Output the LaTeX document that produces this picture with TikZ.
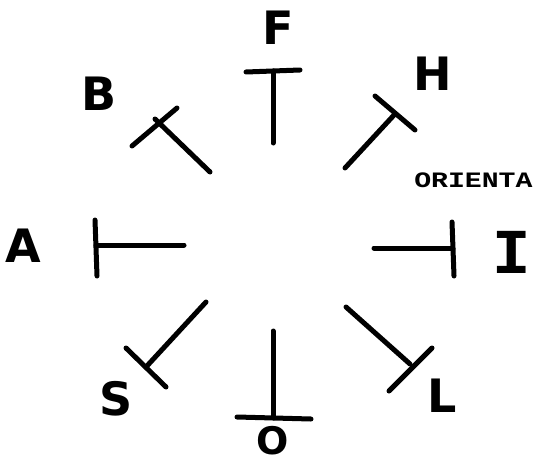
\documentclass[tikz,border=0pt]{standalone}
\usepackage{fontspec}
\setmainfont{DejaVu Sans}
\newfontfamily\typefont{Liberation Mono}
\tikzset{
  tee/.style={line width=5pt},
  lbl/.style={font=\bfseries\fontsize{46}{46}\selectfont, inner sep=0pt},
}
\begin{document}
\begin{tikzpicture}[x=1pt,y=-1pt,line cap=round,line join=round]
\useasboundingbox (0,0) rectangle (534,465);
% F (top)
\draw[tee] (273,143) -- (273,71);
\draw[tee] (246,72) -- (300,70);
% H (top right)
\draw[tee] (345,168) -- (395,114);
\draw[tee] (375,96) -- (415,130);
% I (right)
\draw[tee] (374,248) -- (453,248);
\draw[tee] (452,222) -- (454,276);
% L (bottom right)
\draw[tee] (346,307) -- (410,364);
\draw[tee] (432,348) -- (389,391);
% O (bottom)
\draw[tee] (273,331) -- (273,418);
\draw[tee] (237,417) -- (311,419);
% S (bottom left)
\draw[tee] (206,302) -- (146,367);
\draw[tee] (126,348) -- (166,387);
% A (left)
\draw[tee] (96,245) -- (184,245);
\draw[tee] (95,220) -- (97,276);
% B (top left)
\draw[tee] (210,172) -- (155,119);
\draw[tee] (132,146) -- (177,108);
% labels
\node[lbl] (labF) at (278,28) {F};
\node[lbl] (labH) at (433,74) {H};
\node[lbl, font=\typefont\bfseries\fontsize{64}{64}\selectfont] (labI) at (512,252) {I};
\node[lbl] (labL) at (442,396) {L};
\node[lbl, font=\bfseries\fontsize{38}{38}\selectfont] (labO) at (273,441) {O};
\node[lbl] (labS) at (116,399) {S};
\node[lbl] (labA) at (23,246) {A};
\node[lbl] (labB) at (99,94) {B};
\node[anchor=base west, inner sep=0pt, xscale=1.28,
  font=\typefont\bfseries\fontsize{22}{22}\selectfont] (orient) at (414,187) {ORIENTA};
\end{tikzpicture}
\end{document}
